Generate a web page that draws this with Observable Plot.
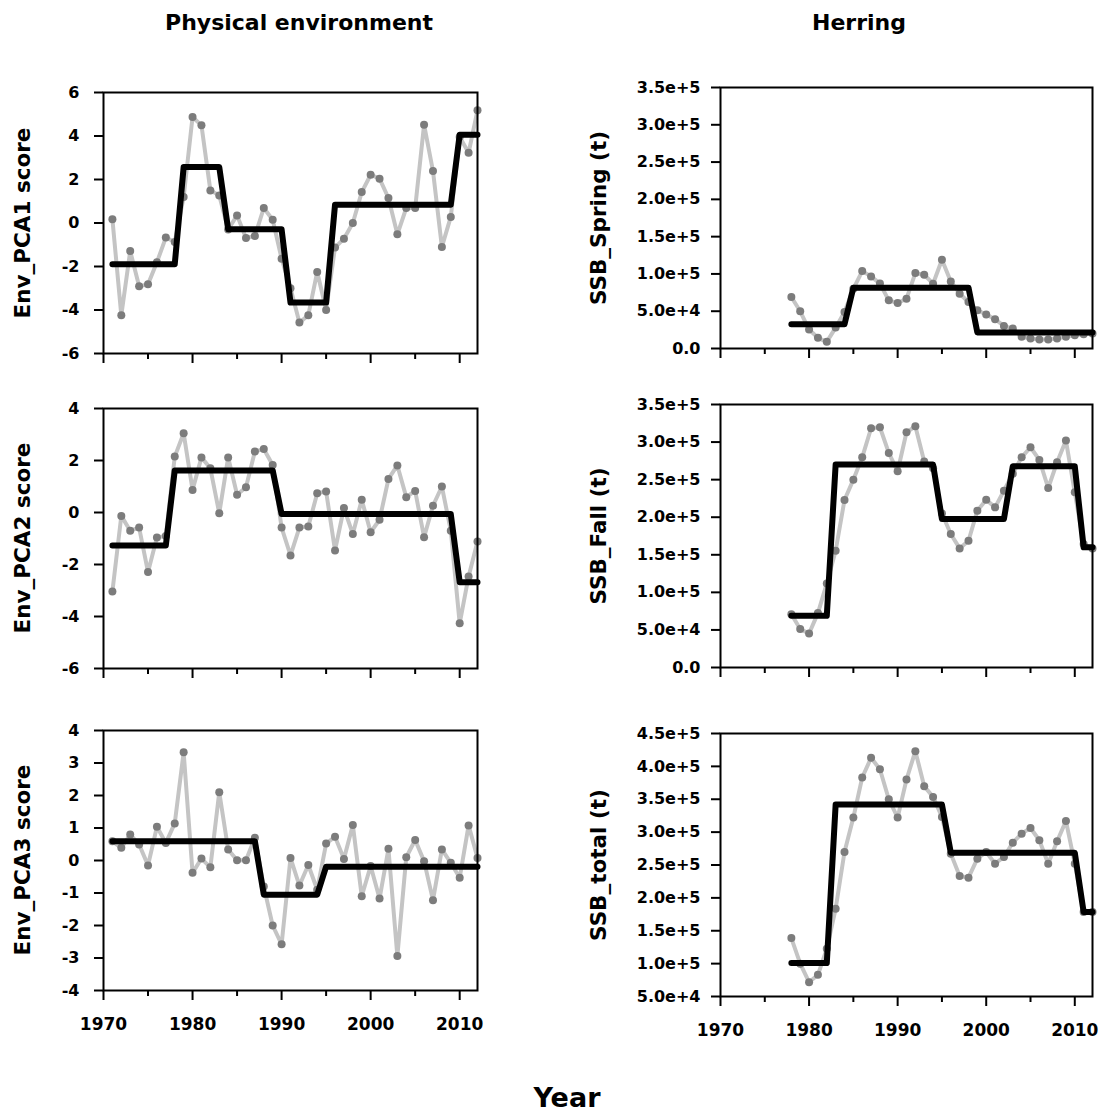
<!DOCTYPE html>
<html><head><meta charset="utf-8">
<script src="https://cdn.jsdelivr.net/npm/d3@7"></script>
<script src="https://cdn.jsdelivr.net/npm/@observablehq/plot@0.6"></script>
<style>
html,body{margin:0;padding:0;background:#fff;}
#fig{position:relative;width:1105px;height:1116px;background:#fff;font-family:"DejaVu Sans",sans-serif;font-weight:bold;color:#000;overflow:hidden;}
.panel{position:absolute;}
.title{position:absolute;font-size:22px;transform:translate(-50%,-50%);white-space:nowrap;}
.ytitle{position:absolute;font-size:21.5px;white-space:nowrap;transform:translate(-50%,-50%) rotate(-90deg);}
.xtitle{position:absolute;font-size:27px;transform:translate(-50%,-50%);white-space:nowrap;}
</style></head><body><div id="fig"></div>
<script>
// ---- data ----
const envYears = [1971,1972,1973,1974,1975,1976,1977,1978,1979,1980,1981,1982,1983,1984,1985,1986,1987,1988,1989,1990,1991,1992,1993,1994,1995,1996,1997,1998,1999,2000,2001,2002,2003,2004,2005,2006,2007,2008,2009,2010,2011,2012];
const herringYears = [1978,1979,1980,1981,1982,1983,1984,1985,1986,1987,1988,1989,1990,1991,1992,1993,1994,1995,1996,1997,1998,1999,2000,2001,2002,2003,2004,2005,2006,2007,2008,2009,2010,2011,2012];

const env1 = [0.17,-4.24,-1.29,-2.91,-2.82,-1.8,-0.67,-0.87,1.19,4.87,4.49,1.5,1.27,-0.3,0.35,-0.69,-0.6,0.69,0.15,-1.64,-3.0,-4.58,-4.24,-2.25,-4.0,-1.13,-0.72,0.0,1.42,2.22,2.04,1.15,-0.52,0.69,0.69,4.52,2.39,-1.1,0.28,3.95,3.23,5.18];
const env2 = [-3.04,-0.13,-0.7,-0.58,-2.29,-0.96,-0.9,2.15,3.05,0.87,2.12,1.7,-0.03,2.12,0.68,0.97,2.35,2.44,1.83,-0.58,-1.65,-0.58,-0.54,0.74,0.81,-1.46,0.17,-0.83,0.49,-0.76,-0.28,1.29,1.81,0.59,0.83,-0.95,0.26,1.0,-0.7,-4.26,-2.46,-1.12];
const env3 = [0.59,0.39,0.8,0.49,-0.15,1.04,0.54,1.14,3.33,-0.38,0.06,-0.21,2.1,0.34,0.01,0.01,0.7,-0.8,-2.0,-2.58,0.08,-0.77,-0.14,-0.9,0.52,0.73,0.05,1.09,-1.1,-0.17,-1.17,0.36,-2.94,0.1,0.63,-0.02,-1.22,0.34,-0.07,-0.53,1.08,0.08];

const ssbSpring = [69000,49900,25400,14300,8900,28000,49000,80000,103800,96700,87000,64600,61000,66800,101100,98900,86900,119000,90000,73500,62400,51200,45500,39200,30300,26700,15600,13400,12000,12000,13400,15600,17800,19200,20000];
const ssbFall = [71000,51100,45300,72400,111900,155400,222900,250000,279700,318400,319700,285500,261100,313000,321000,274000,265000,205000,177600,158500,168700,208700,223400,213100,235300,258000,279700,293100,276200,238900,273100,302000,233100,164300,158500];
const ssbTotal = [138800,100000,71800,83000,122600,183500,269800,322100,383000,413000,395700,350000,322100,380000,423100,369800,353600,323100,267300,233200,230700,259600,269800,252000,262200,284000,297700,306300,287600,252000,286000,317000,252000,178400,178400];

// regime shifts: first year of each regime and the regime mean
const env1ShiftYears = [1971,1979,1984,1991,1996,2010];
const env1Means = [-1.9,2.57,-0.29,-3.66,0.84,4.06];
const env2ShiftYears = [1971,1978,1990,2010];
const env2Means = [-1.27,1.62,-0.06,-2.68];
const env3ShiftYears = [1971,1988,1995];
const env3Means = [0.59,-1.05,-0.19];
const springShiftYears = [1978,1985,1999];
const springMeans = [32500,81600,21400];
const fallShiftYears = [1978,1983,1995,2003,2011];
const fallMeans = [68800,270000,197600,267800,159900];
const totalShiftYears = [1978,1983,1996,2011];
const totalMeans = [100800,341900,268800,178400];

// axis ticks and labels
const yearTicksMajor = [1970,1980,1990,2000,2010];
const yearTicksMinor = [1975,1985,1995,2005];
const env1Ticks = [-6,-4,-2,0,2,4,6];
const env2Ticks = [-6,-4,-2,0,2,4];
const env3Ticks = [-4,-3,-2,-1,0,1,2,3,4];
const ssbTicks = [0,50000,100000,150000,200000,250000,300000,350000];
const totalTicks = [50000,100000,150000,200000,250000,300000,350000,400000,450000];

const columnTitles = ["Physical environment","Herring"];
const yTitles = ["Env_PCA1 score","Env_PCA2 score","Env_PCA3 score","SSB_Spring (t)","SSB_Fall (t)","SSB_total (t)"];
const xTitle = "Year";

// ---- drawing ----
const fig = document.getElementById("fig");

function regimeAt(year, shifts, means) {
  let v = means[0];
  for (let i = 0; i < shifts.length; i++) if (year >= shifts[i]) v = means[i];
  return v;
}
const sciFmt = d => d === 0 ? "0.0" : d3.format(".1e")(d);
const intFmt = d => String(d);

function panel(p) {
  const data = p.years.map((y, i) => ({year: y, value: p.values[i], regime: regimeAt(y, p.shifts, p.means)}));
  const mt = 10, mb = 45;
  const h = p.frameBottom - p.frameTop + mt + mb;
  const svg = Plot.plot({
    width: p.width, height: h,
    marginLeft: p.ml, marginRight: p.mr, marginTop: mt, marginBottom: mb,
    style: {fontFamily: "DejaVu Sans", fontWeight: "bold", fontSize: "16px", color: "#000", background: "transparent", overflow: "visible"},
    x: {domain: [1970, 2012]},
    y: {domain: p.yDomain},
    marks: [
      Plot.axisY({ticks: p.yTicks, tickFormat: p.fmt, tickSize: 9, tickPadding: p.tpad, strokeWidth: 2, fontSize: 16, label: null}),
      Plot.axisX({ticks: yearTicksMajor, tickSize: 10, strokeWidth: 2, label: null,
        tickFormat: intFmt, tickPadding: 17, fontSize: 17, fill: p.showX ? "currentColor" : "none"}),
      Plot.axisX({ticks: yearTicksMinor, tickSize: 6, strokeWidth: 2, label: null, fill: "none"}),
      Plot.lineY(data, {x: "year", y: "value", stroke: "#c4c4c4", strokeWidth: 4}),
      Plot.dot(data, {x: "year", y: "value", r: 4, fill: "#7c7c7c", stroke: "none"}),
      Plot.lineY(data, {x: "year", y: "regime", stroke: "#000", strokeWidth: 6, strokeLinejoin: "round"}),
      Plot.frame({stroke: "#000", strokeWidth: 2})
    ]
  });
  svg.classList.add("panel");
  svg.style.left = p.left + "px";
  svg.style.top = (p.frameTop - mt) + "px";
  fig.appendChild(svg);
  const t = document.createElement("div");
  t.className = "ytitle";
  t.textContent = p.title;
  t.style.left = p.titleX + "px";
  t.style.top = ((p.frameTop + p.frameBottom) / 2) + "px";
  fig.appendChild(t);
}

const L = {left: 0, width: 490, ml: 103, mr: 13, tpad: 15, titleX: 22, years: envYears, fmt: intFmt};
const R = {left: 560, width: 545, ml: 160, mr: 13, tpad: 11, titleX: 598, years: herringYears, fmt: sciFmt};

panel({...L, values: env1, shifts: env1ShiftYears, means: env1Means, yDomain: [-6, 6], yTicks: env1Ticks, frameTop: 92, frameBottom: 353, showX: false, title: yTitles[0]});
panel({...L, values: env2, shifts: env2ShiftYears, means: env2Means, yDomain: [-6, 4], yTicks: env2Ticks, frameTop: 408, frameBottom: 668, showX: false, title: yTitles[1]});
panel({...L, values: env3, shifts: env3ShiftYears, means: env3Means, yDomain: [-4, 4], yTicks: env3Ticks, frameTop: 730, frameBottom: 990, showX: true, title: yTitles[2]});
panel({...R, values: ssbSpring, shifts: springShiftYears, means: springMeans, yDomain: [0, 350000], yTicks: ssbTicks, frameTop: 87, frameBottom: 348, showX: false, title: yTitles[3]});
panel({...R, values: ssbFall, shifts: fallShiftYears, means: fallMeans, yDomain: [0, 350000], yTicks: ssbTicks, frameTop: 404, frameBottom: 667, showX: false, title: yTitles[4]});
panel({...R, values: ssbTotal, shifts: totalShiftYears, means: totalMeans, yDomain: [50000, 450000], yTicks: totalTicks, frameTop: 733, frameBottom: 996, showX: true, title: yTitles[5]});

function addText(cls, text, x, y) {
  const d = document.createElement("div");
  d.className = cls; d.textContent = text;
  d.style.left = x + "px"; d.style.top = y + "px";
  fig.appendChild(d);
}
addText("title", columnTitles[0], 299, 22);
addText("title", columnTitles[1], 859, 22);
addText("xtitle", xTitle, 567, 1097);
</script>
</body></html>
